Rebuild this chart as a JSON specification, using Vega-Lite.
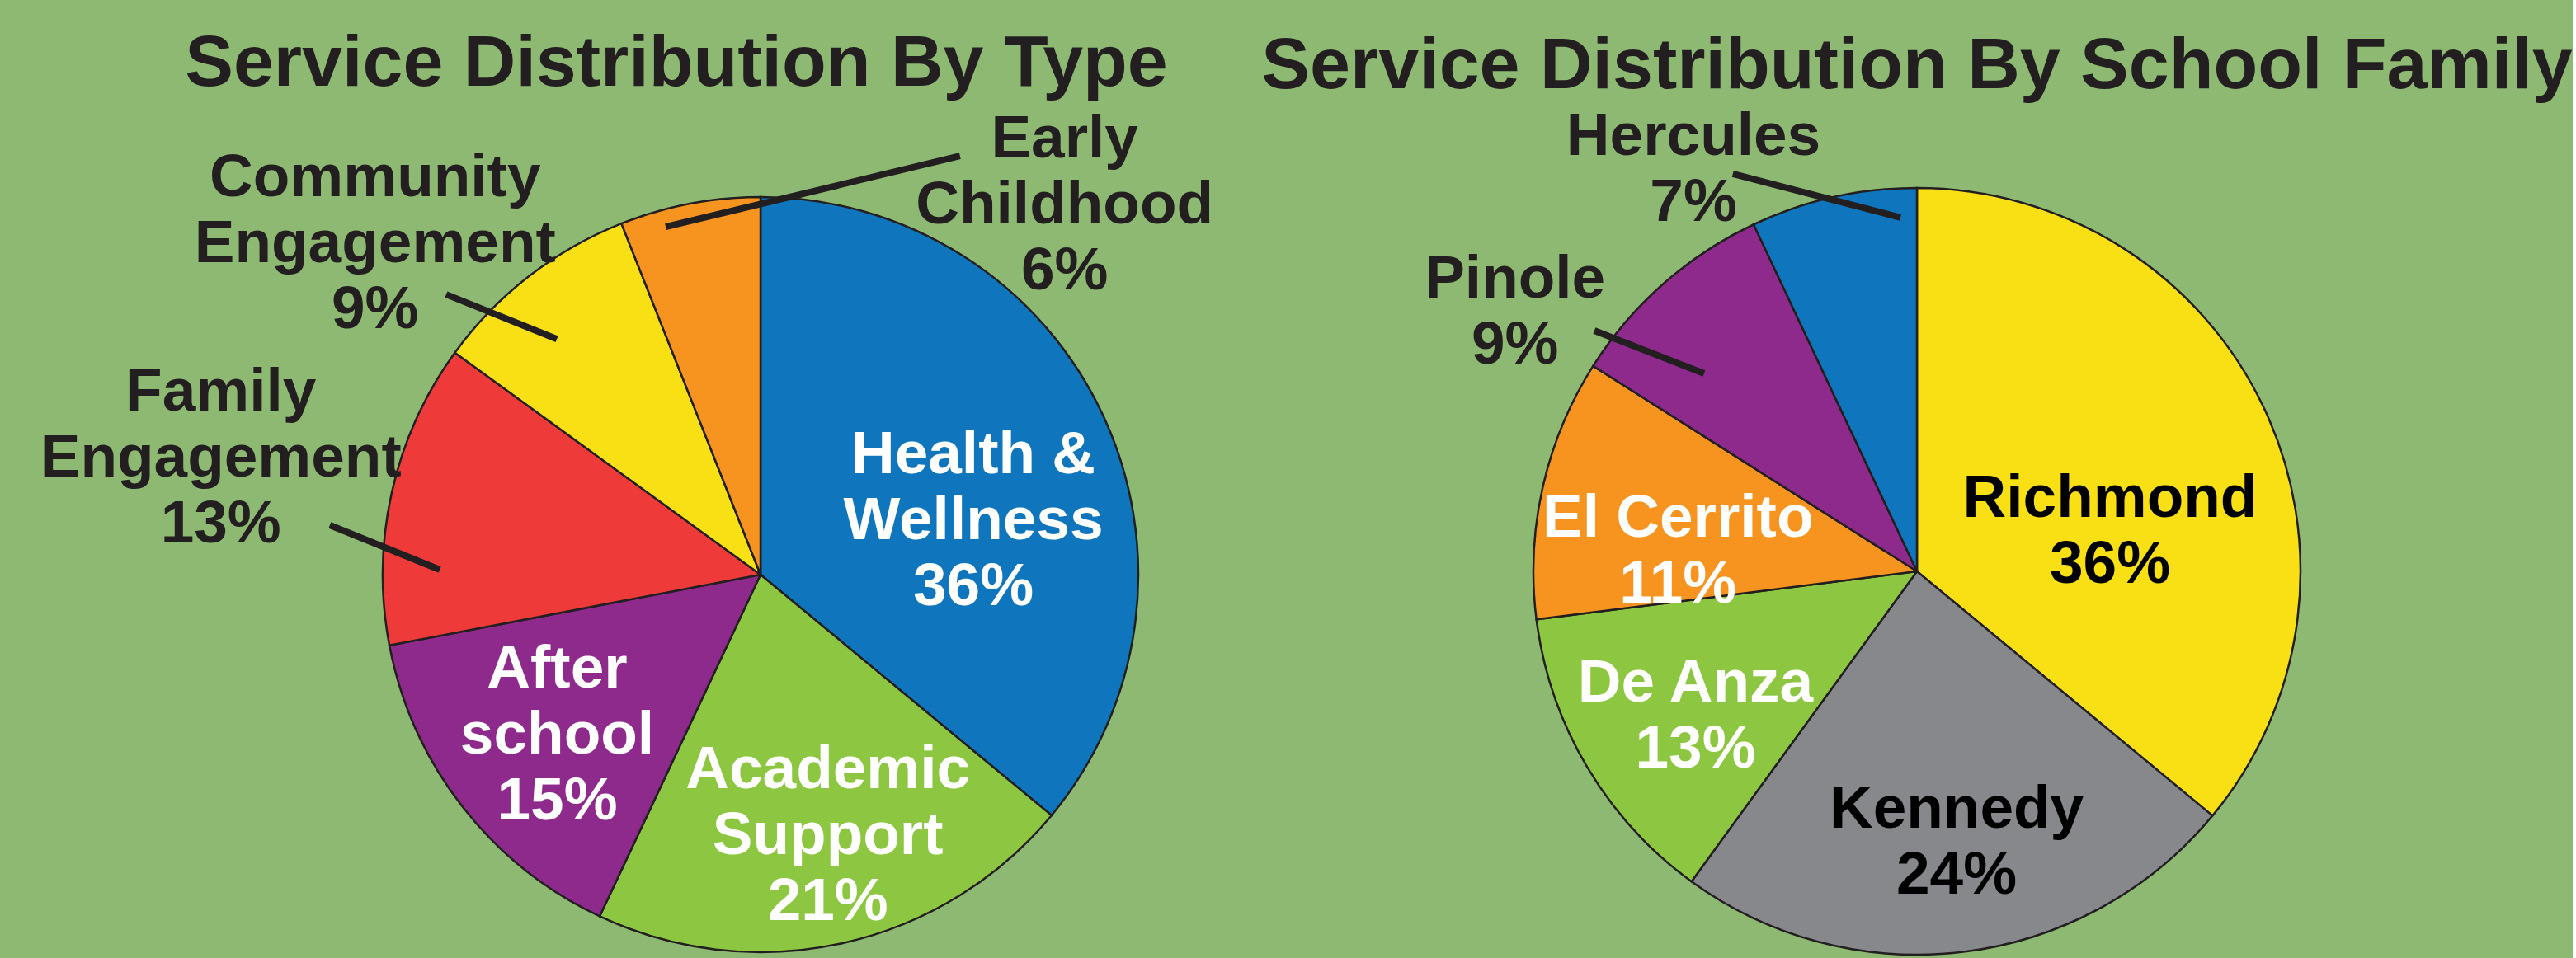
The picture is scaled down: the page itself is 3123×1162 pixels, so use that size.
{
  "$schema": "https://vega.github.io/schema/vega-lite/v6.json",
  "background": "#8eb973",
  "autosize": {"type": "pad"},
  "padding": {"left": 6, "top": 33, "right": 0, "bottom": 0},
  "bounds": "flush",
  "spacing": 21,
  "resolve": {"scale": {"color": "independent", "theta": "independent", "x": "independent", "y": "independent"}},
  "config": {
    "view": {"stroke": null},
    "text": {"font": "Liberation Sans", "fontWeight": "bold", "fontSize": 73, "lineHeight": 80, "lineBreak": "\n", "baseline": "alphabetic", "align": "center"}
  },
  "datasets": {
    "byType": [
      {"name": "Health & Wellness", "value": 36, "rank": 1, "label": "Health &\nWellness\n36%"},
      {"name": "Academic Support", "value": 21, "rank": 2, "label": "Academic\nSupport\n21%"},
      {"name": "After school", "value": 15, "rank": 3, "label": "After\nschool\n15%"},
      {"name": "Family Engagement", "value": 13, "rank": 4, "label": "Family\nEngagement\n13%"},
      {"name": "Community Engagement", "value": 9, "rank": 5, "label": "Community\nEngagement\n9%"},
      {"name": "Early Childhood", "value": 6, "rank": 6, "label": "Early\nChildhood\n6%"}
    ],
    "byFamily": [
      {"name": "Richmond", "value": 36, "rank": 1, "label": "Richmond\n36%"},
      {"name": "Kennedy", "value": 24, "rank": 2, "label": "Kennedy\n24%"},
      {"name": "De Anza", "value": 13, "rank": 3, "label": "De Anza\n13%"},
      {"name": "El Cerrito", "value": 11, "rank": 4, "label": "El Cerrito\n11%"},
      {"name": "Pinole", "value": 9, "rank": 5, "label": "Pinole\n9%"},
      {"name": "Hercules", "value": 7, "rank": 6, "label": "Hercules\n7%"}
    ],
    "typeLeaders": [
      {"name": "Family Engagement", "fromAcross": -114.0, "fromUp": 13.1, "toAcross": -84.9, "toUp": 1.3},
      {"name": "Community Engagement", "fromAcross": -83.2, "fromUp": 74.2, "toAcross": -53.9, "toUp": 62.4},
      {"name": "Early Childhood", "fromAcross": -25.1, "fromUp": 92.1, "toAcross": 52.8, "toUp": 110.9}
    ],
    "familyLeaders": [
      {"name": "Hercules", "fromAcross": -48.0, "fromUp": 103.7, "toAcross": -4.3, "toUp": 92.3},
      {"name": "Pinole", "fromAcross": -84.1, "fromUp": 62.8, "toAcross": -55.5, "toUp": 51.6}
    ]
  },
  "hconcat": [
    {
      "width": 1832,
      "height": 916,
      "title": {"text": "Service Distribution By Type", "anchor": "middle", "frame": "group", "offset": -59, "dx": -102, "baseline": "alphabetic", "font": "Liberation Sans", "fontSize": 88, "fontWeight": "bold", "color": "#231f20"},
      "data": {"name": "byType"},
      "layer": [
        {
          "mark": {"type": "arc", "outerRadius": 458, "stroke": "#231f20", "strokeWidth": 2.5},
          "encoding": {
            "theta": {"field": "value", "type": "quantitative", "stack": true},
            "order": {"field": "rank", "type": "quantitative"},
            "color": {"field": "name", "type": "nominal", "legend": null,
              "scale": {"domain": ["Health & Wellness", "Academic Support", "After school", "Family Engagement", "Community Engagement", "Early Childhood"],
                        "range": ["#0f75bc", "#8dc641", "#8e2a8b", "#ee3b39", "#f8e015", "#f7941f"]}}
          }
        },
        {
          "data": {"name": "typeLeaders"},
          "mark": {"type": "rule", "strokeWidth": 8, "color": "#231f20"},
          "encoding": {
            "x": {"field": "fromAcross", "type": "quantitative", "axis": null, "scale": {"domain": [-200, 200], "nice": false, "zero": false}},
            "y": {"field": "fromUp", "type": "quantitative", "axis": null, "scale": {"domain": [-100, 100], "nice": false, "zero": false}},
            "x2": {"field": "toAcross"},
            "y2": {"field": "toUp"}
          }
        },
        {
          "transform": [
            {"stack": "value", "groupby": [], "sort": [{"field": "rank", "order": "ascending"}], "as": ["angleFrom", "angleTo"]},
            {"filter": "datum.name === 'Health & Wellness'"}
          ],
          "mark": {"type": "text", "radius": 123, "dx": 258, "dy": 0, "fill": "#ffffff"},
          "encoding": {
            "theta": {"field": "angleFrom", "type": "quantitative", "stack": null},
            "text": {"field": "label", "type": "nominal"}
          }
        },
        {
          "transform": [
            {"stack": "value", "groupby": [], "sort": [{"field": "rank", "order": "ascending"}], "as": ["angleFrom", "angleTo"]},
            {"filter": "datum.name === 'Academic Support'"}
          ],
          "mark": {"type": "text", "radius": 228, "dx": -94, "dy": 114, "fill": "#ffffff"},
          "encoding": {
            "theta": {"field": "angleFrom", "type": "quantitative", "stack": null},
            "text": {"field": "label", "type": "nominal"}
          }
        },
        {
          "transform": [
            {"stack": "value", "groupby": [], "sort": [{"field": "rank", "order": "ascending"}], "as": ["angleFrom", "angleTo"]},
            {"filter": "datum.name === 'After school'"}
          ],
          "mark": {"type": "text", "radius": 229, "dx": -149, "dy": -70, "fill": "#ffffff"},
          "encoding": {
            "theta": {"field": "angleFrom", "type": "quantitative", "stack": null},
            "text": {"field": "label", "type": "nominal"}
          }
        },
        {
          "transform": [
            {"stack": "value", "groupby": [], "sort": [{"field": "rank", "order": "ascending"}], "as": ["angleFrom", "angleTo"]},
            {"filter": "datum.name === 'Family Engagement'"}
          ],
          "mark": {"type": "text", "radius": 605, "dx": -60, "dy": -312, "fill": "#231f20"},
          "encoding": {
            "theta": {"field": "angleFrom", "type": "quantitative", "stack": null},
            "text": {"field": "label", "type": "nominal"}
          }
        },
        {
          "transform": [
            {"stack": "value", "groupby": [], "sort": [{"field": "rank", "order": "ascending"}], "as": ["angleFrom", "angleTo"]},
            {"filter": "datum.name === 'Community Engagement'"}
          ],
          "mark": {"type": "text", "radius": 648, "dx": 57, "dy": -78, "fill": "#231f20"},
          "encoding": {
            "theta": {"field": "angleFrom", "type": "quantitative", "stack": null},
            "text": {"field": "label", "type": "nominal"}
          }
        },
        {
          "transform": [
            {"stack": "value", "groupby": [], "sort": [{"field": "rank", "order": "ascending"}], "as": ["angleFrom", "angleTo"]},
            {"filter": "datum.name === 'Early Childhood'"}
          ],
          "mark": {"type": "text", "radius": 335, "dx": 492, "dy": -195, "fill": "#231f20"},
          "encoding": {
            "theta": {"field": "angleFrom", "type": "quantitative", "stack": null},
            "text": {"field": "label", "type": "nominal"}
          }
        }
      ]
    },
    {
      "width": 930,
      "height": 908,
      "title": {"text": "Service Distribution By School Family", "anchor": "middle", "frame": "group", "offset": -65, "baseline": "alphabetic", "font": "Liberation Sans", "fontSize": 88, "fontWeight": "bold", "color": "#231f20"},
      "data": {"name": "byFamily"},
      "layer": [
        {
          "mark": {"type": "arc", "outerRadius": 465, "stroke": "#231f20", "strokeWidth": 2.5},
          "encoding": {
            "theta": {"field": "value", "type": "quantitative", "stack": true},
            "order": {"field": "rank", "type": "quantitative"},
            "color": {"field": "name", "type": "nominal", "legend": null,
              "scale": {"domain": ["Richmond", "Kennedy", "De Anza", "El Cerrito", "Pinole", "Hercules"],
                        "range": ["#f8e015", "#87888c", "#8dc641", "#f7941f", "#8e2a8b", "#0f75bc"]}}
          }
        },
        {
          "data": {"name": "familyLeaders"},
          "mark": {"type": "rule", "strokeWidth": 8, "color": "#231f20"},
          "encoding": {
            "x": {"field": "fromAcross", "type": "quantitative", "axis": null, "scale": {"domain": [-100, 100], "nice": false, "zero": false}},
            "y": {"field": "fromUp", "type": "quantitative", "axis": null, "scale": {"domain": [-97.63, 97.63], "nice": false, "zero": false}},
            "x2": {"field": "toAcross"},
            "y2": {"field": "toUp"}
          }
        },
        {
          "transform": [
            {"stack": "value", "groupby": [], "sort": [{"field": "rank", "order": "ascending"}], "as": ["angleFrom", "angleTo"]},
            {"filter": "datum.name === 'Richmond'"}
          ],
          "mark": {"type": "text", "radius": 66, "dx": 234, "dy": 0, "fill": "#000000"},
          "encoding": {
            "theta": {"field": "angleFrom", "type": "quantitative", "stack": null},
            "text": {"field": "label", "type": "nominal"}
          }
        },
        {
          "transform": [
            {"stack": "value", "groupby": [], "sort": [{"field": "rank", "order": "ascending"}], "as": ["angleFrom", "angleTo"]},
            {"filter": "datum.name === 'Kennedy'"}
          ],
          "mark": {"type": "text", "radius": 235, "dx": -133, "dy": 161, "fill": "#000000"},
          "encoding": {
            "theta": {"field": "angleFrom", "type": "quantitative", "stack": null},
            "text": {"field": "label", "type": "nominal"}
          }
        },
        {
          "transform": [
            {"stack": "value", "groupby": [], "sort": [{"field": "rank", "order": "ascending"}], "as": ["angleFrom", "angleTo"]},
            {"filter": "datum.name === 'De Anza'"}
          ],
          "mark": {"type": "text", "radius": 285, "dx": -101, "dy": -73, "fill": "#ffffff"},
          "encoding": {
            "theta": {"field": "angleFrom", "type": "quantitative", "stack": null},
            "text": {"field": "label", "type": "nominal"}
          }
        },
        {
          "transform": [
            {"stack": "value", "groupby": [], "sort": [{"field": "rank", "order": "ascending"}], "as": ["angleFrom", "angleTo"]},
            {"filter": "datum.name === 'El Cerrito'"}
          ],
          "mark": {"type": "text", "radius": 282, "dx": -10, "dy": -77, "fill": "#ffffff"},
          "encoding": {
            "theta": {"field": "angleFrom", "type": "quantitative", "stack": null},
            "text": {"field": "label", "type": "nominal"}
          }
        },
        {
          "transform": [
            {"stack": "value", "groupby": [], "sort": [{"field": "rank", "order": "ascending"}], "as": ["angleFrom", "angleTo"]},
            {"filter": "datum.name === 'Pinole'"}
          ],
          "mark": {"type": "text", "radius": 589, "dx": 10, "dy": -16, "fill": "#231f20"},
          "encoding": {
            "theta": {"field": "angleFrom", "type": "quantitative", "stack": null},
            "text": {"field": "label", "type": "nominal"}
          }
        },
        {
          "transform": [
            {"stack": "value", "groupby": [], "sort": [{"field": "rank", "order": "ascending"}], "as": ["angleFrom", "angleTo"]},
            {"filter": "datum.name === 'Hercules'"}
          ],
          "mark": {"type": "text", "radius": 573, "dx": -27, "dy": 13, "fill": "#231f20"},
          "encoding": {
            "theta": {"field": "angleFrom", "type": "quantitative", "stack": null},
            "text": {"field": "label", "type": "nominal"}
          }
        }
      ]
    }
  ]
}
